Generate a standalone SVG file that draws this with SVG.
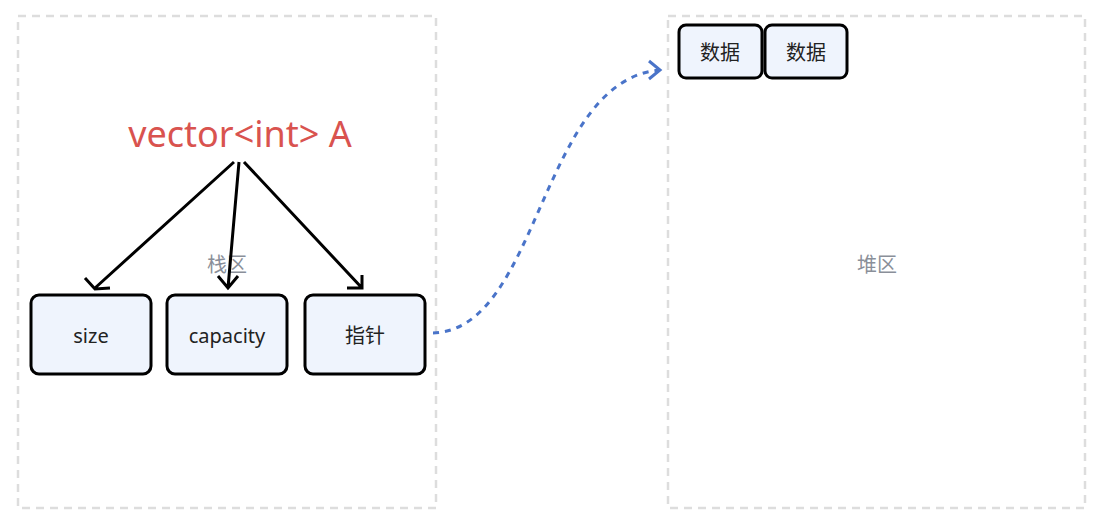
<svg xmlns="http://www.w3.org/2000/svg" width="1103" height="529" viewBox="0 0 1103 529">
<style>
.area{fill:none;stroke:#dddddd;stroke-width:2.5;stroke-dasharray:8 6}
.box{fill:#eff4fd;stroke:#000;stroke-width:3}
.t{font-family:"Noto Sans","Noto Sans CJK SC",sans-serif;font-size:20px;fill:#222;text-anchor:middle;dominant-baseline:central}
.lbl{font-family:"Noto Sans","Noto Sans CJK SC",sans-serif;font-size:20px;fill:#8a8f99;text-anchor:middle;dominant-baseline:central}
.e{fill:none;stroke:#000;stroke-width:3}
</style>
<defs>
<marker id="ah" viewBox="0 0 12 12" refX="10" refY="6" markerWidth="6" markerHeight="6" markerUnits="userSpaceOnUse" orient="auto">
</marker>
</defs>
<g id="stack"><rect class="area" x="18" y="16" width="418" height="492"/><text class="lbl" x="227" y="264">栈区</text></g>
<g id="heap"><rect class="area" x="668" y="16" width="417" height="492"/><text class="lbl" x="877" y="264">堆区</text></g>
<g id="title"><text x="240" y="133" font-family="'Noto Sans',sans-serif" font-size="36" fill="#d9534f" text-anchor="middle" dominant-baseline="central">vector&lt;int&gt; A</text></g>
<g id="size"><rect class="box" x="31" y="295" width="120" height="79" rx="8"/><text class="t" x="91" y="335">size</text></g>
<g id="capacity"><rect class="box" x="167" y="295" width="120" height="79" rx="8"/><text class="t" x="227" y="335">capacity</text></g>
<g id="ptr"><rect class="box" x="305" y="295" width="120" height="79" rx="8"/><text class="t" x="365" y="335">指针</text></g>
<g id="d1"><rect class="box" x="679" y="25" width="83" height="53" rx="7"/><text class="t" x="720" y="52">数据</text></g>
<g id="d2"><rect class="box" x="765" y="25" width="82" height="53" rx="7"/><text class="t" x="806" y="52">数据</text></g>
<g id="connectors">
<path class="e" d="M234 162L95 288M85 278L95 289L110 288"/>
<path class="e" d="M239 162L228 288M218 276L228 288L238 276"/>
<path class="e" d="M244 162L362 288M362 275L362 288L347 288"/>
<path d="M433 333C540 330 540 80 660 70" fill="none" stroke="#4a74c9" stroke-width="3" stroke-dasharray="6 6"/>
<path d="M649 61L660 70L649 79" fill="none" stroke="#4a74c9" stroke-width="3"/>
</g>
</svg>
